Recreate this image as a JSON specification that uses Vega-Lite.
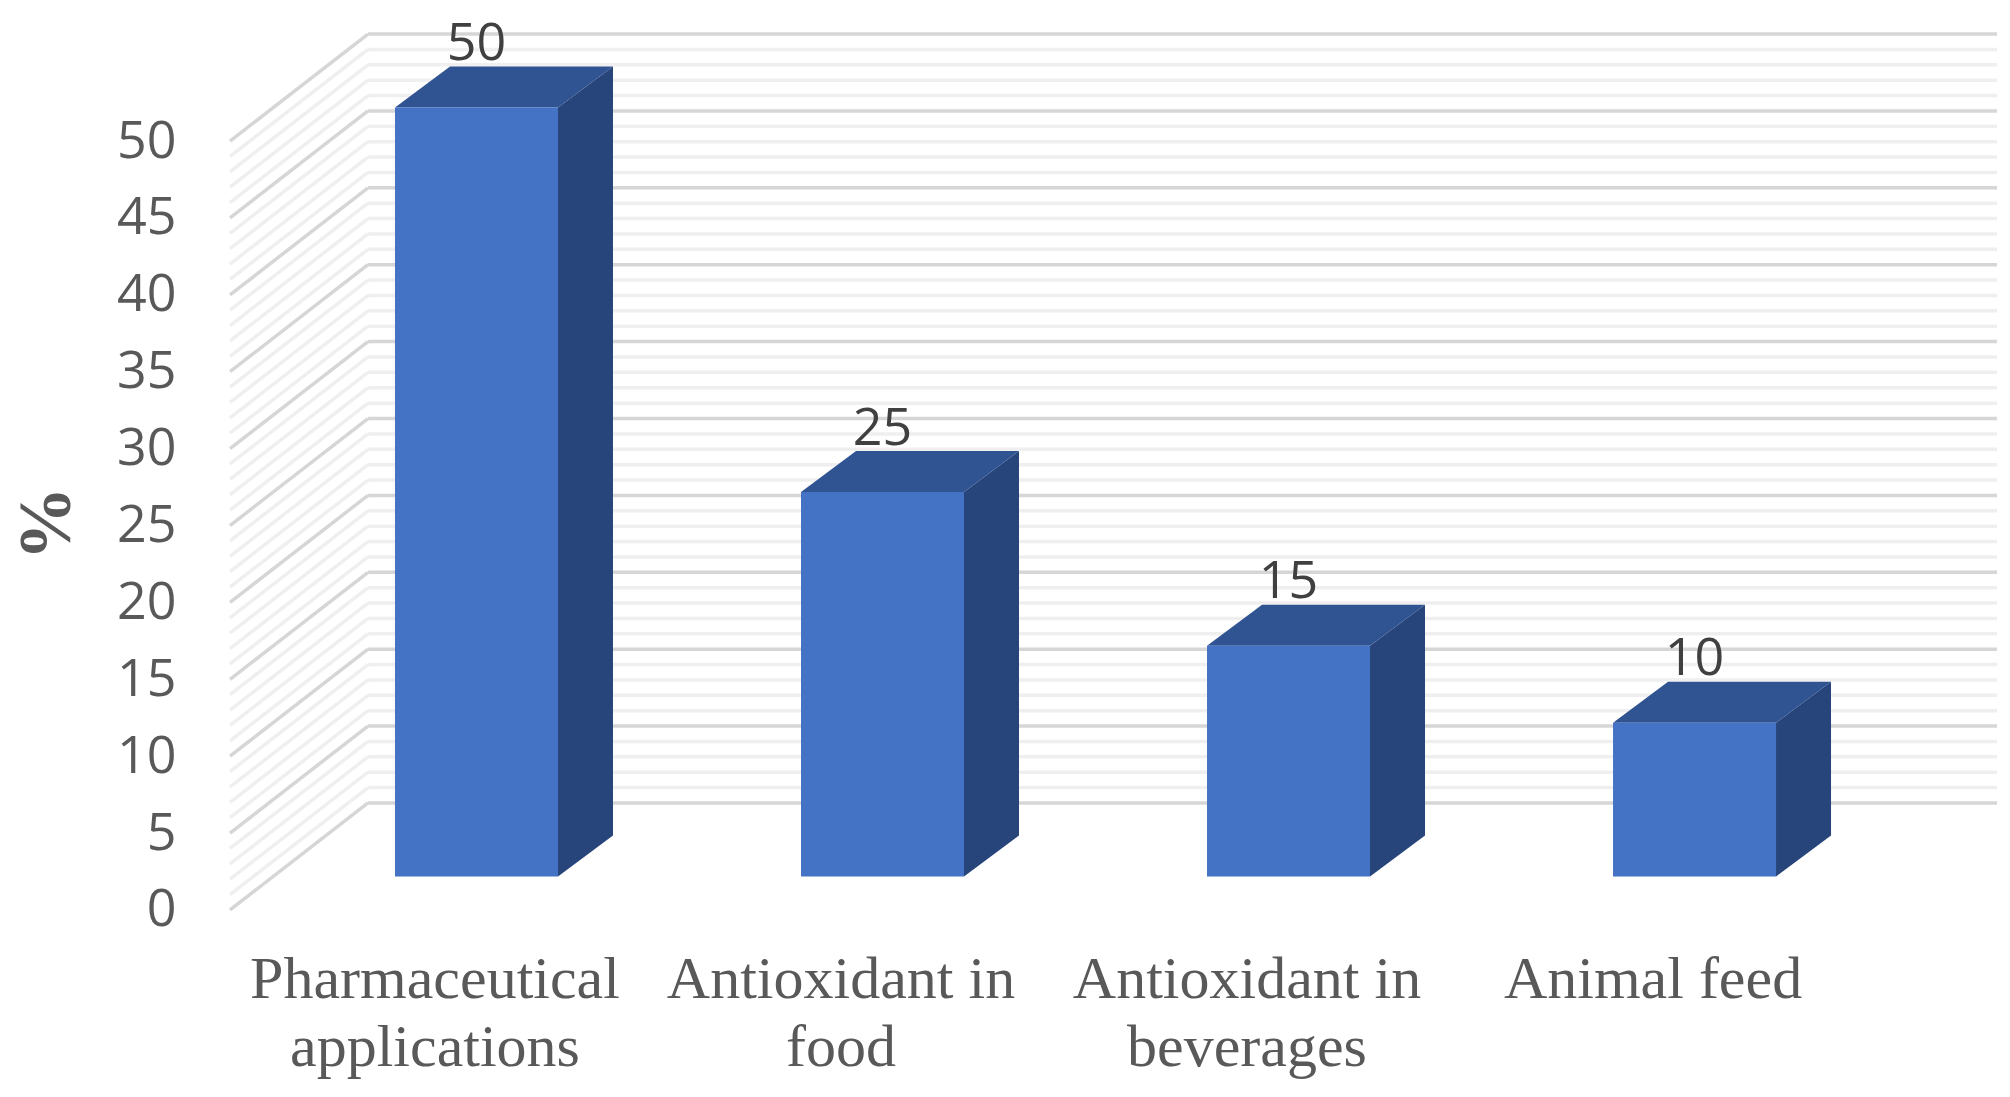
{
"$schema":"https://vega.github.io/schema/vega-lite/v6.json",
"width":1780,"height":1097,"autosize":"none","padding":{"left":230,"top":0,"right":0,"bottom":0},
"background":"white","view":{"stroke":null},
"datasets":{
"bars":[
{"category":"Pharmaceutical applications","index":1,"value":50},
{"category":"Antioxidant in food","index":2,"value":25},
{"category":"Antioxidant in beverages","index":3,"value":15},
{"category":"Animal feed","index":4,"value":10}],
"side":[
{"index":1,"pos":1.2007,"low":0,"high":50},{"index":1,"pos":1.3362,"low":2.67,"high":52.67},
{"index":2,"pos":2.2007,"low":0,"high":25},{"index":2,"pos":2.3362,"low":2.67,"high":27.67},
{"index":3,"pos":3.2007,"low":0,"high":15},{"index":3,"pos":3.3362,"low":2.67,"high":17.67},
{"index":4,"pos":4.2007,"low":0,"high":10},{"index":4,"pos":4.3362,"low":2.67,"high":12.67}],
"top":[
{"index":1,"level":50,"left":0.7993,"right":1.2007},{"index":1,"level":52.67,"left":0.9348,"right":1.3362},
{"index":2,"level":25,"left":1.7993,"right":2.2007},{"index":2,"level":27.67,"left":1.9348,"right":2.3362},
{"index":3,"level":15,"left":2.7993,"right":3.2007},{"index":3,"level":17.67,"left":2.9348,"right":3.3362},
{"index":4,"level":10,"left":3.7993,"right":4.2007},{"index":4,"level":12.67,"left":3.9348,"right":4.3362}],
"grid":[
{"level":1,"kind":"minor"},{"level":2,"kind":"minor"},{"level":3,"kind":"minor"},{"level":4,"kind":"minor"},
{"level":6,"kind":"minor"},{"level":7,"kind":"minor"},{"level":8,"kind":"minor"},{"level":9,"kind":"minor"},
{"level":11,"kind":"minor"},{"level":12,"kind":"minor"},{"level":13,"kind":"minor"},{"level":14,"kind":"minor"},
{"level":16,"kind":"minor"},{"level":17,"kind":"minor"},{"level":18,"kind":"minor"},{"level":19,"kind":"minor"},
{"level":21,"kind":"minor"},{"level":22,"kind":"minor"},{"level":23,"kind":"minor"},{"level":24,"kind":"minor"},
{"level":26,"kind":"minor"},{"level":27,"kind":"minor"},{"level":28,"kind":"minor"},{"level":29,"kind":"minor"},
{"level":31,"kind":"minor"},{"level":32,"kind":"minor"},{"level":33,"kind":"minor"},{"level":34,"kind":"minor"},
{"level":36,"kind":"minor"},{"level":37,"kind":"minor"},{"level":38,"kind":"minor"},{"level":39,"kind":"minor"},
{"level":41,"kind":"minor"},{"level":42,"kind":"minor"},{"level":43,"kind":"minor"},{"level":44,"kind":"minor"},
{"level":46,"kind":"minor"},{"level":47,"kind":"minor"},{"level":48,"kind":"minor"},{"level":49,"kind":"minor"},
{"level":0,"kind":"major"},{"level":5,"kind":"major"},{"level":10,"kind":"major"},{"level":15,"kind":"major"},
{"level":20,"kind":"major"},{"level":25,"kind":"major"},{"level":30,"kind":"major"},{"level":35,"kind":"major"},
{"level":40,"kind":"major"},{"level":45,"kind":"major"},{"level":50,"kind":"major"}]
},
"layer":[
{"data":{"name":"grid"},
 "mark":{"type":"rule","strokeWidth":3.5,"yOffset":-107,"y2Offset":-107},
 "encoding":{
  "x":{"datum":0.7328,"type":"quantitative","scale":{"domain":[0.3929,4.777],"nice":false,"zero":false,"padding":0}},
  "x2":{"datum":4.745},
  "y":{"field":"level","type":"quantitative","scale":{"domain":[-12.16,59.17],"nice":false,"zero":false,"padding":0}},
  "color":{"field":"kind","type":"nominal","scale":{"domain":["major","minor"],"range":["#d6d6d6","#efefef"]},"legend":null}}},
{"data":{"name":"grid"},
 "mark":{"type":"rule","strokeWidth":3.5,"y2Offset":-107},
 "encoding":{
  "x":{"datum":0.3929,"type":"quantitative"},
  "x2":{"datum":0.7328},
  "y":{"field":"level","type":"quantitative"},
  "y2":{"field":"level"},
  "color":{"field":"kind","type":"nominal","legend":null}}},
{"data":{"name":"side"},
 "mark":{"type":"area","color":"#27457B","yOffset":-33.5,"y2Offset":-33.5},
 "encoding":{
  "x":{"field":"pos","type":"quantitative"},
  "y":{"field":"high","type":"quantitative"},
  "y2":{"field":"low"},
  "detail":{"field":"index"}}},
{"data":{"name":"top"},
 "mark":{"type":"area","orient":"horizontal","color":"#305392","yOffset":-33.5},
 "encoding":{
  "y":{"field":"level","type":"quantitative"},
  "x":{"field":"left","type":"quantitative"},
  "x2":{"field":"right"},
  "detail":{"field":"index"}}},
{"data":{"name":"bars"},
 "mark":{"type":"bar","size":163,"color":"#4472C4","yOffset":-33.5,"y2Offset":-33.5},
 "encoding":{
  "x":{"field":"index","type":"quantitative","axis":{
    "values":[1,2,3,4],"title":null,"domain":false,"ticks":false,"grid":false,"orient":"bottom",
    "offset":-165,"labelPadding":18,"labelOffset":-42,"labelOverlap":false,"labelFlush":false,"labelLimit":800,
    "labelFont":"Liberation Serif","labelFontSize":60,"labelColor":"#595959","labelLineHeight":68,"labelBaseline":"top",
    "labelExpr":"datum.value==1?['Pharmaceutical','applications']:datum.value==2?['Antioxidant in','food']:datum.value==3?['Antioxidant in','beverages']:['Animal feed']"}},
  "y":{"field":"value","type":"quantitative","axis":{
    "values":[0,5,10,15,20,25,30,35,40,45,50],"title":"%","domain":false,"ticks":false,"grid":false,
    "labelPadding":54,"labelFont":"Open Sans","labelFontSize":52,"labelColor":"#595959","labelOverlap":false,"labelFlush":false,
    "titleFont":"Liberation Serif","titleFontSize":74,"titleFontWeight":"bold","titleColor":"#595959",
    "titleAngle":-90,"titleX":-183,"titleY":523,"titleAlign":"center","titleBaseline":"middle"}},
  "y2":{"datum":0}}},
{"data":{"name":"bars"},
 "mark":{"type":"text","font":"Open Sans","fontSize":52,"color":"#404040","yOffset":-97,"baseline":"middle"},
 "encoding":{
  "x":{"field":"index","type":"quantitative"},
  "y":{"field":"value","type":"quantitative"},
  "text":{"field":"value","type":"quantitative"}}}
]
}
